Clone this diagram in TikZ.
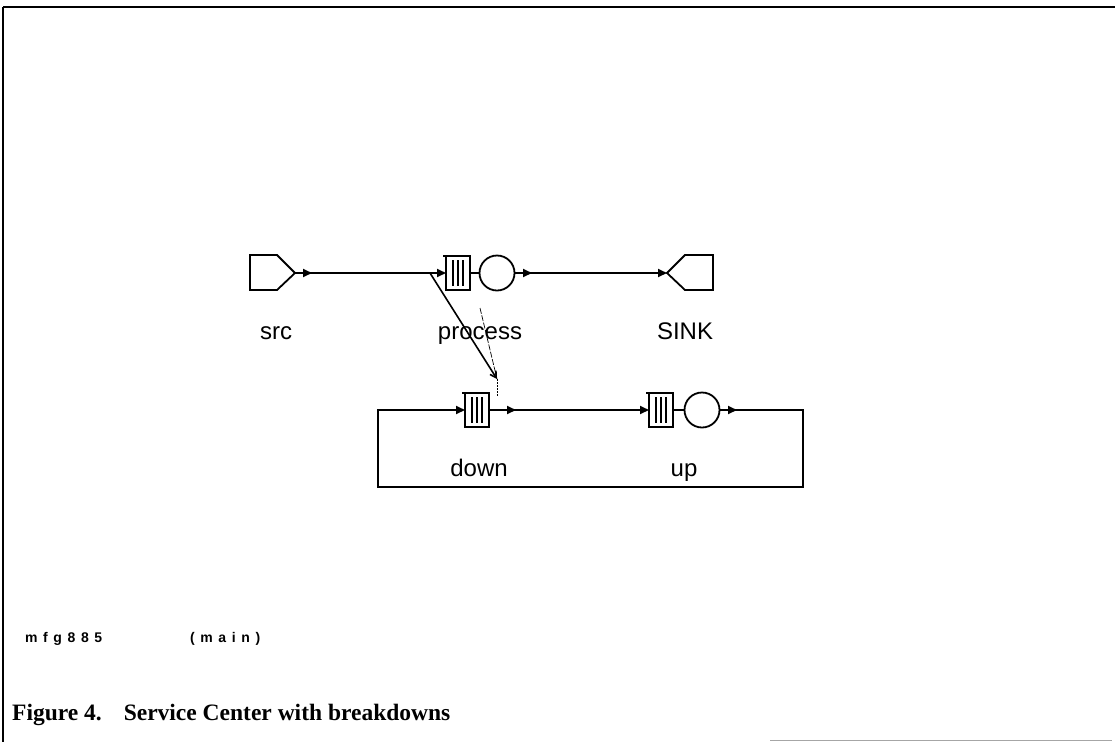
\documentclass[tikz,border=0pt]{standalone}
\usepackage{fontspec}
\setmainfont{Liberation Serif}
\setsansfont{Liberation Sans}
\newfontfamily\dotfont{Liberation Sans Bold}[LetterSpace=40]
\usetikzlibrary{arrows.meta}
\begin{document}
\begin{tikzpicture}[x=1pt,y=-1pt,
  line/.style={line width=1.8pt,line cap=round},
  tipline/.style={line width=1.8pt,-{Triangle[length=9pt,width=8pt]}},
  server/.style={circle,draw,line width=1.8pt,minimum size=35pt,inner sep=0pt},
  lbl/.style={font=\sffamily\fontsize{24}{24}\selectfont,anchor=base,inner sep=0pt},
  queue/.pic={
    \draw[line width=1.8pt] (-12,-17) rectangle (12,17);
    \draw[line width=1.8pt] (-15,-17) -- (-12,-17);
    \foreach \u in {-5,0,5} \draw[line width=1.4pt] (\u,-13) -- (\u,13);
  }]
\useasboundingbox (0,0) rectangle (1115,742);
% frame
\draw[line width=2.2pt] (3,7) -- (1115,7);
\draw[line width=2.2pt] (3,7) -- (3,742);
\draw[line width=1pt,gray!70] (770,740) -- (1112,740);
% source
\draw[line] (250,255) -- (277,255) -- (295,273) -- (277,290) -- (250,290) -- cycle;
\coordinate (src) at (295,273);
% process
\pic at (458,273) {queue};
\coordinate (pin) at (446,273);
\coordinate (pout) at (470,273);
\node[server] (p) at (497,273) {};
% sink
\draw[line] (713,255) -- (685,255) -- (667,273) -- (685,290) -- (713,290) -- cycle;
\coordinate (sink) at (667,273);
% down
\pic at (477,410) {queue};
\coordinate (din) at (465,410);
\coordinate (dout) at (489,410);
% up
\pic at (661,410) {queue};
\coordinate (uin) at (649,410);
\coordinate (uout) at (673,410);
\node[server] (u) at (702,410) {};
% connectors
\coordinate (br) at (430,273);
\draw[tipline] (src) -- (312,273);
\draw[tipline] (src) -- (pin);
\draw[line] (pout) -- (p.west);
\draw[tipline] (p.east) -- (532,273);
\draw[tipline] (p.east) -- (sink);
\draw[tipline] (dout) -- (516,410);
\draw[tipline] (dout) -- (uin);
\draw[line] (uout) -- (u.west);
\draw[tipline] (u.east) -- (737,410);
\coordinate (c1) at (803,410);
\coordinate (c2) at (803,487);
\coordinate (c3) at (378,487);
\coordinate (c4) at (378,410);
\draw[tipline] (u.east) -- (c1) -- (c2) -- (c3) -- (c4) -- (din);
% breakdown link
\coordinate (tip) at (497,379);
\draw[line width=1.6pt,-{Straight Barb[length=6pt,width=7pt]}] (br) -- (tip);
\coordinate (fa) at (480,308);
\draw[line width=0.7pt,dash pattern=on 6pt off 1.5pt] (fa) -- (tip);
\coordinate (dtop) at (497,397);
\draw[line width=0.9pt,dash pattern=on 2pt off 1pt] (tip) -- (dtop);
% labels
\node[lbl] (lsrc) at (276,339) {src};
\node[lbl] (lproc) at (480,339) {process};
\node[lbl] (lsink) at (685,339) {SINK};
\node[lbl] (ldown) at (479,476) {down};
\node[lbl] (lup) at (684,476) {up};
\node[font=\dotfont\fontsize{14}{14}\selectfont,anchor=base west,inner sep=0pt] (m1) at (25,642) {mfg885};
\node[font=\dotfont\fontsize{14}{14}\selectfont,anchor=base west,inner sep=0pt] (m2) at (190,642) {(main)};
\node[font=\bfseries\fontsize{23.5}{23.5}\selectfont,anchor=base west,inner sep=0pt] (cap) at (12,720) {Figure 4.\hspace{0.6em} Service Center with breakdowns};
\end{tikzpicture}
\end{document}
